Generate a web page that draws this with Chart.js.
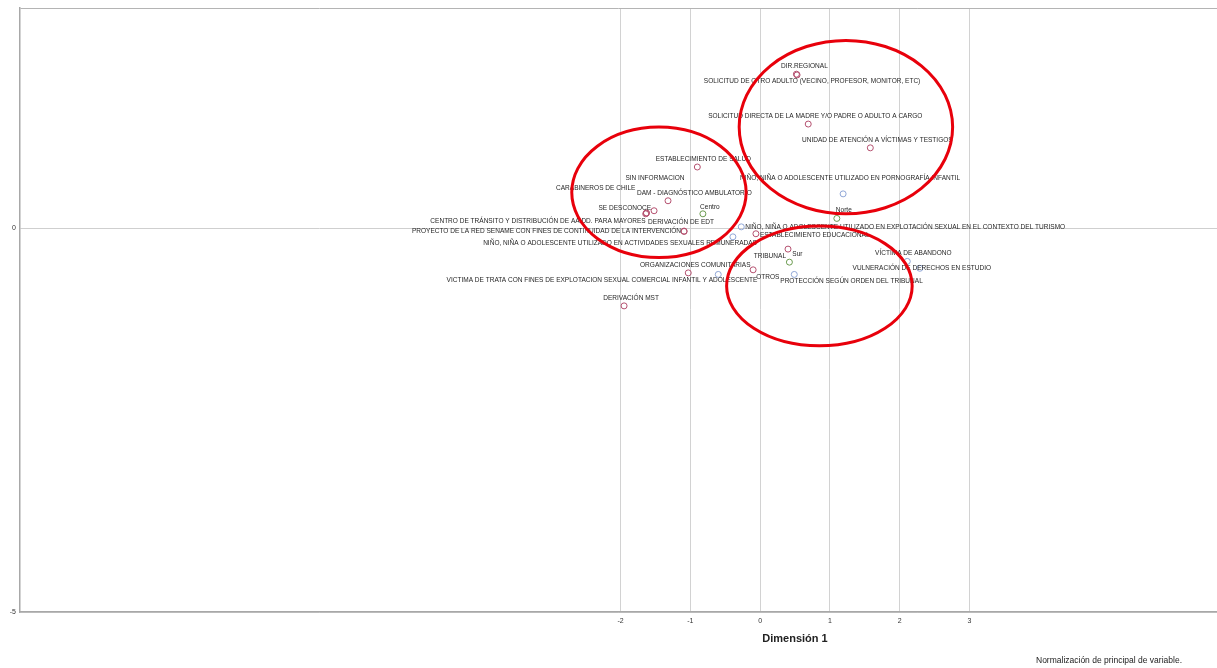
<!DOCTYPE html>
<html>
<head>
<meta charset="utf-8">
<script src="https://cdn.jsdelivr.net/npm/chart.js@4.4.1/dist/chart.umd.min.js"></script>
<style>
    html, body { margin: 0; padding: 0; background: #fff; overflow: hidden; }
    #wrap { position: relative; width: 1217px; height: 668px; }
    #nota { position: absolute; left: 1036px; top: 655px; font: 8.5px "Liberation Sans", Arial, sans-serif; color: #222; white-space: nowrap; }
</style>
</head>
<body>
<div id="wrap">
    <canvas id="myChart" width="1217" height="668"></canvas>
    <div id="nota">Normalización de principal de variable.</div>
</div>
<script>
// Vía de ingreso / derivación
var derivacionCats = [
    'DIR.REGIONAL',
    'SOLICITUD DE OTRO ADULTO (VECINO, PROFESOR, MONITOR, ETC)',
    'SOLICITUD DIRECTA DE LA MADRE Y/O PADRE O ADULTO A CARGO',
    'UNIDAD DE ATENCIÓN A VÍCTIMAS Y TESTIGOS',
    'ESTABLECIMIENTO DE SALUD',
    'SIN INFORMACION',
    'CARABINEROS DE CHILE',
    'DAM - DIAGNÓSTICO AMBULATORIO',
    'SE DESCONOCE',
    'CENTRO DE TRÁNSITO Y DISTRIBUCIÓN DE AA.DD. PARA MAYORES',
    'DERIVACIÓN DE EDT',
    'PROYECTO DE LA RED SENAME CON FINES DE CONTINUIDAD DE LA INTERVENCIÓN',
    'ESTABLECIMIENTO EDUCACIONAL',
    'TRIBUNAL',
    'ORGANIZACIONES COMUNITARIAS',
    'OTROS',
    'DERIVACIÓN MST'
];
var derivacionDim1 = [0.52, 0.53, 0.69, 1.58, -0.90, -1.63, -1.63, -1.32, -1.52, -1.64, -1.09, -1.09, -0.06, 0.40, -1.03, -0.10, -1.95];
var derivacionDim2 = [2.01, 2.00, 1.36, 1.05, 0.80, 0.20, 0.20, 0.36, 0.23, 0.19, -0.04, -0.035, -0.07, -0.27, -0.58, -0.54, -1.01];

// Zona
var zonaCats = ['Centro', 'Norte', 'Sur'];
var zonaDim1 = [-0.82, 1.10, 0.42];
var zonaDim2 = [0.19, 0.13, -0.44];

// Causal de ingreso
var causalCats = [
    'NIÑO, NIÑA O ADOLESCENTE UTILIZADO EN PORNOGRAFÍA INFANTIL',
    'NIÑO, NIÑA O ADOLESCENTE UTILIZADO EN EXPLOTACIÓN SEXUAL EN EL CONTEXTO DEL TURISMO',
    'NIÑO, NIÑA O ADOLESCENTE UTILIZADO EN ACTIVIDADES SEXUALES REMUNERADAS',
    'VÍCTIMA DE ABANDONO',
    'VULNERACIÓN DE DERECHOS EN ESTUDIO',
    'PROTECCIÓN SEGÚN ORDEN DEL TRIBUNAL',
    'VICTIMA DE TRATA CON FINES DE EXPLOTACION SEXUAL COMERCIAL INFANTIL Y ADOLESCENTE'
];
var causalDim1 = [1.19, -0.27, -0.39, 2.11, 2.29, 0.49, -0.60];
var causalDim2 = [0.45, 0.02, -0.11, -0.43, -0.52, -0.60, -0.60];

var xTicks = [-2, -1, 0, 1, 2, 3];
var yTicks = [-5, 0];
var xMin = -10.61, xMax = 6.55;
var yMin = -5, yMax = 2.87;

// posición de cada etiqueta respecto a su punto: [dx, dy, alineación]
var labelLayout = {
    'DIR.REGIONAL': [8, -8],
    'SOLICITUD DE OTRO ADULTO (VECINO, PROFESOR, MONITOR, ETC)': [15, 6],
    'SOLICITUD DIRECTA DE LA MADRE Y/O PADRE O ADULTO A CARGO': [7, -8],
    'UNIDAD DE ATENCIÓN A VÍCTIMAS Y TESTIGOS': [7, -8],
    'ESTABLECIMIENTO DE SALUD': [6, -8],
    'SIN INFORMACION': [-21, -35, 'left'],
    'CARABINEROS DE CHILE': [-11, -25, 'right'],
    'DAM - DIAGNÓSTICO AMBULATORIO': [-31, -8, 'left'],
    'SE DESCONOCE': [-3, -3, 'right'],
    'CENTRO DE TRÁNSITO Y DISTRIBUCIÓN DE AA.DD. PARA MAYORES': [0, 7, 'right'],
    'DERIVACIÓN DE EDT': [-36, -10, 'left'],
    'PROYECTO DE LA RED SENAME CON FINES DE CONTINUIDAD DE LA INTERVENCIÓN': [-3, 0, 'right'],
    'ESTABLECIMIENTO EDUCACIONAL': [4, 1, 'left'],
    'TRIBUNAL': [-2, 7, 'right'],
    'ORGANIZACIONES COMUNITARIAS': [7, -8],
    'OTROS': [3, 7, 'left'],
    'DERIVACIÓN MST': [7, -8],
    'Centro': [7, -7],
    'Norte': [7, -8],
    'Sur': [8, -8],
    'NIÑO, NIÑA O ADOLESCENTE UTILIZADO EN PORNOGRAFÍA INFANTIL': [7, -16],
    'NIÑO, NIÑA O ADOLESCENTE UTILIZADO EN EXPLOTACIÓN SEXUAL EN EL CONTEXTO DEL TURISMO': [4, 0, 'left'],
    'NIÑO, NIÑA O ADOLESCENTE UTILIZADO EN ACTIVIDADES SEXUALES REMUNERADAS': [24, 6, 'right'],
    'VÍCTIMA DE ABANDONO': [6, -8],
    'VULNERACIÓN DE DERECHOS EN ESTUDIO': [2, 0],
    'PROTECCIÓN SEGÚN ORDEN DEL TRIBUNAL': [-14, 7, 'left'],
    'VICTIMA DE TRATA CON FINES DE EXPLOTACION SEXUAL COMERCIAL INFANTIL Y ADOLESCENTE': [39, 6, 'right']
};

// elipses rojas dibujadas sobre el gráfico (centro y radios en unidades de las dimensiones)
var elipses = [
    { cx: 1.23, cy: 1.32, rx: 1.53, ry: 1.13 },
    { cx: -1.45, cy: 0.47, rx: 1.25, ry: 0.85 },
    { cx: 0.85, cy: -0.75, rx: 1.33, ry: 0.78 }
];

function puntos(d1, d2) {
    var arr = [];
    for (var i = 0; i < d1.length; i++) {
        arr.push({ x: d1[i], y: d2[i] });
    }
    return arr;
}

var etiquetasPlugin = {
    id: 'etiquetas',
    afterDatasetsDraw: function (chart) {
        var ctx = chart.ctx;
        chart.data.datasets.forEach(function (ds, i) {
            var meta = chart.getDatasetMeta(i);
            meta.data.forEach(function (pt, j) {
                var name = ds.names[j];
                var off = labelLayout[name] || [6, -8];
                ctx.save();
                ctx.font = '7.5px "Liberation Sans", Arial, sans-serif';
                ctx.fillStyle = '#262626';
                ctx.textBaseline = 'middle';
                ctx.textAlign = off[2] || 'center';
                ctx.translate(pt.x + off[0], pt.y + off[1]);
                ctx.scale(0.87, 1);
                ctx.fillText(name, 0, 0);
                ctx.restore();
            });
        });

        var xs = chart.scales.x, ys = chart.scales.y;
        ctx.save();
        ctx.strokeStyle = '#e8000b';
        ctx.lineWidth = 3;
        elipses.forEach(function (e) {
            var cx = xs.getPixelForValue(e.cx);
            var cy = ys.getPixelForValue(e.cy);
            var rx = Math.abs(xs.getPixelForValue(e.cx + e.rx) - cx);
            var ry = Math.abs(ys.getPixelForValue(e.cy + e.ry) - cy);
            ctx.beginPath();
            ctx.ellipse(cx, cy, rx, ry, 0, 0, Math.PI * 2);
            ctx.stroke();
        });
        ctx.restore();

        // título del eje x
        ctx.save();
        ctx.font = 'bold 11px "Liberation Sans", Arial, sans-serif';
        ctx.fillStyle = '#222';
        ctx.textAlign = 'center';
        ctx.textBaseline = 'middle';
        ctx.fillText('Dimensión 1', xs.getPixelForValue(0.5), 639);
        ctx.restore();
    }
};

var ctx = document.getElementById('myChart');
var myChart = new Chart(ctx, {
    type: 'scatter',
    data: {
        datasets: [
            {
                label: 'Derivación', names: derivacionCats, data: puntos(derivacionDim1, derivacionDim2),
                borderColor: '#b4506f', backgroundColor: 'rgba(0,0,0,0)', pointRadius: 3, borderWidth: 1
            },
            {
                label: 'Zona', names: zonaCats, data: puntos(zonaDim1, zonaDim2),
                borderColor: '#6a9a4e', backgroundColor: 'rgba(0,0,0,0)', pointRadius: 3, borderWidth: 1
            },
            {
                label: 'Causal', names: causalCats, data: puntos(causalDim1, causalDim2),
                borderColor: '#8fa6d6', backgroundColor: 'rgba(0,0,0,0)', pointRadius: 3, borderWidth: 1
            }
        ]
    },
    options: {
        responsive: false,
        animation: false,
        layout: { autoPadding: false, padding: { top: 8, left: 0, right: 0, bottom: 0 } },
        plugins: {
            legend: { display: false },
            tooltip: { enabled: false }
        },
        scales: {
            x: {
                type: 'linear', min: xMin, max: xMax,
                afterBuildTicks: function (scale) {
                    scale.ticks = xTicks.map(function (v) { return { value: v }; });
                },
                afterFit: function (scale) { scale.height = 56; },
                grid: { color: '#d2d2d2', drawTicks: false },
                border: { color: '#a8a8a8', width: 1.5 },
                ticks: { padding: 5, color: '#333', font: { size: 7, family: 'Liberation Sans' } }
            },
            y: {
                type: 'linear', min: yMin, max: yMax,
                afterBuildTicks: function (scale) {
                    var t = yTicks.map(function (v) { return { value: v }; });
                    t.push({ value: yMax });
                    scale.ticks = t;
                },
                afterFit: function (scale) { scale.width = 20; },
                grid: {
                    drawTicks: false,
                    color: function (c) { return c.tick && c.tick.value === yMax ? '#b4b4b4' : '#cfcfcf'; }
                },
                border: { color: '#a8a8a8', width: 1.5 },
                ticks: {
                    padding: 4, color: '#333', font: { size: 7, family: 'Liberation Sans' },
                    callback: function (v) { return v === yMax ? '' : v; }
                }
            }
        }
    },
    plugins: [etiquetasPlugin]
});
</script>
</body>
</html>
